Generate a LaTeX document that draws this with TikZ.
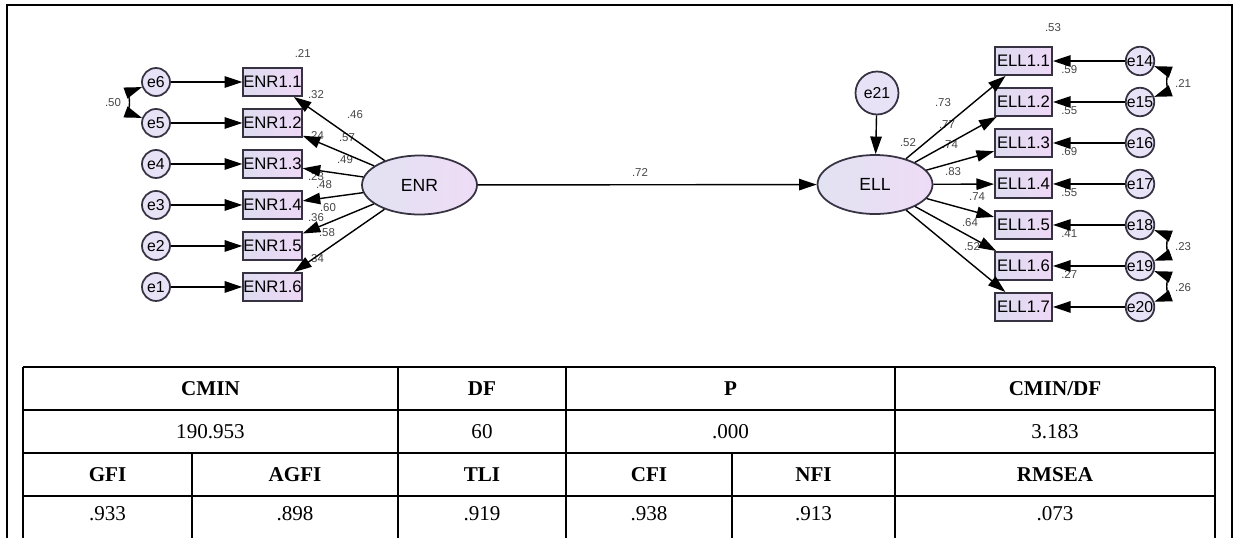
\documentclass[tikz,border=0pt]{standalone}
\usepackage{fontspec}
\setmainfont{Liberation Serif}
\setsansfont{Liberation Sans}
\usetikzlibrary{arrows.meta, shapes, positioning}

\definecolor{amosline}{RGB}{55,50,65}
\definecolor{latleft}{RGB}{226,226,242}
\definecolor{latright}{RGB}{238,220,246}
\definecolor{boxleft}{RGB}{222,220,240}
\definecolor{boxright}{RGB}{238,216,246}
\definecolor{errfill}{RGB}{232,226,246}
\definecolor{coefgray}{RGB}{70,70,70}

\begin{document}
\begin{tikzpicture}[x=0.02cm, y=-0.02cm, on grid, node distance=0.82cm,
	>={Triangle[length=10pt,width=6.5pt]},
	latent/.style={ellipse, draw=amosline, line width=1pt, left color=latleft, right color=latright, minimum width=2.3cm, minimum height=1.18cm, inner sep=0pt, font=\sffamily\fontsize{10}{12}\selectfont},
	item/.style={rectangle, draw=amosline, line width=1.1pt, left color=boxleft, right color=boxright, minimum width=1.16cm, minimum height=0.56cm, inner sep=0pt, font=\sffamily\fontsize{9.5}{11}\selectfont},
	err/.style={circle, draw=amosline, line width=1pt, fill=errfill, minimum size=0.56cm, inner sep=0pt, font=\sffamily\fontsize{9}{10}\selectfont},
	coef/.style={inner sep=0pt, text=coefgray, font=\sffamily\fontsize{6.5}{7}\selectfont},
	hd/.style={font=\bfseries\fontsize{12}{14}\selectfont},
	val/.style={font=\fontsize{12}{14}\selectfont},
	rule/.style={line width=1.4pt}]
		\useasboundingbox (0,0) rectangle (1237,538);
		\draw[rule] (7,538) -- (7,5) -- (1232,5) -- (1232,538);
		
		% ENR block
		\node[latent] (ENR) at (419.5,185) {ENR};
		\node[item] (enr1) at (272.5,82) {ENR1.1};
		\node[item, below = of enr1] (enr2) {ENR1.2};
		\node[item, below = of enr2] (enr3) {ENR1.3};
		\node[item, below = of enr3] (enr4) {ENR1.4};
		\node[item, below = of enr4] (enr5) {ENR1.5};
		\node[item, below = of enr5] (enr6) {ENR1.6};
		
		\node[err] (e6) at (156,82) {e6};
		\node[err, below = of e6] (e5) {e5};
		\node[err, below = of e5] (e4) {e4};
		\node[err, below = of e4] (e3) {e3};
		\node[err, below = of e3] (e2) {e2};
		\node[err, below = of e2] (e1) {e1};
		
		% ELL block
		\node[latent] (ELL) at (875,184.5) {ELL};
		\node[err, minimum size=0.86cm] (e21) at (877,93) {e21};
		\node[item, minimum width=1.14cm] (ell1) at (1023.5,61) {ELL1.1};
		\node[item, minimum width=1.14cm, below = of ell1] (ell2) {ELL1.2};
		\node[item, minimum width=1.14cm, below = of ell2] (ell3) {ELL1.3};
		\node[item, minimum width=1.14cm, below = of ell3] (ell4) {ELL1.4};
		\node[item, minimum width=1.14cm, below = of ell4] (ell5) {ELL1.5};
		\node[item, minimum width=1.14cm, below = of ell5] (ell6) {ELL1.6};
		\node[item, minimum width=1.14cm, below = of ell6] (ell7) {ELL1.7};
		
		\node[err] (e14) at (1140,61) {e14};
		\node[err, below = of e14] (e15) {e15};
		\node[err, below = of e15] (e16) {e16};
		\node[err, below = of e16] (e17) {e17};
		\node[err, below = of e17] (e18) {e18};
		\node[err, below = of e18] (e19) {e19};
		\node[err, below = of e19] (e20) {e20};
		
		% estimates
		\node[coef, above = 0.19cm of enr1.north east] (r1) {.21};
		\node[coef, above right = 0.19cm and 0.1cm of enr2.north east] (r2) {.32};
		\node[coef, above right = 0.19cm and 0.1cm of enr3.north east] (r3) {.24};
		\node[coef, above right = 0.19cm and 0.1cm of enr4.north east] (r4) {.23};
		\node[coef, above right = 0.19cm and 0.1cm of enr5.north east] (r5) {.36};
		\node[coef, above right = 0.19cm and 0.1cm of enr6.north east] (r6) {.34};
		\node[coef] (l1) at (355,115) {.46};
		\node[coef] (l2) at (347,138) {.57};
		\node[coef] (l3) at (345,160) {.49};
		\node[coef] (l4) at (324,185) {.48};
		\node[coef] (l5) at (328,208) {.60};
		\node[coef] (l6) at (327,233) {.58};
		\node[coef] (c56) at (113,103) {.50};
		
		\node[coef] (b72) at (640,173) {.72};
		\node[coef] (rELL) at (908,143) {.52};
		\node[coef] (k1) at (943,103) {.73};
		\node[coef] (k2) at (947,125) {.77};
		\node[coef] (k3) at (950,145) {.74};
		\node[coef] (k4) at (953,172) {.83};
		\node[coef] (k5) at (977,197) {.74};
		\node[coef] (k6) at (970,223) {.64};
		\node[coef] (k7) at (972,247) {.52};
		\node[coef, above = 0.28cm of ell1.north east] (s1) {.53};
		\node[coef, above right = 0.26cm and 0.16cm of ell2.north east] (s2) {.59};
		\node[coef, above right = 0.26cm and 0.16cm of ell3.north east] (s3) {.55};
		\node[coef, above right = 0.26cm and 0.16cm of ell4.north east] (s4) {.69};
		\node[coef, above right = 0.26cm and 0.16cm of ell5.north east] (s5) {.55};
		\node[coef, above right = 0.26cm and 0.16cm of ell6.north east] (s6) {.41};
		\node[coef, above right = 0.26cm and 0.16cm of ell7.north east] (s7) {.27};
		\node[coef] (c1415) at (1183,84) {.21};
		\node[coef] (c1819) at (1183,247) {.23};
		\node[coef] (c1920) at (1183,288) {.26};
		
		\path[->, line width=0.8pt]
		(e6) edge (enr1)
		(e5) edge (enr2)
		(e4) edge (enr3)
		(e3) edge (enr4)
		(e2) edge (enr5)
		(e1) edge (enr6)
		(ENR) edge (enr1)
		(ENR) edge (enr2)
		(ENR) edge (enr3)
		(ENR) edge (enr4)
		(ENR) edge (enr5)
		(ENR) edge (enr6)
		(ENR) edge (ELL)
		(e21) edge (ELL)
		(ELL) edge (ell1)
		(ELL) edge (ell2)
		(ELL) edge (ell3)
		(ELL) edge (ell4)
		(ELL) edge (ell5)
		(ELL) edge (ell6)
		(ELL) edge (ell7)
		(e14) edge (ell1)
		(e15) edge (ell2)
		(e16) edge (ell3)
		(e17) edge (ell4)
		(e18) edge (ell5)
		(e19) edge (ell6)
		(e20) edge (ell7);
		\path[<->, line width=0.8pt]
		(e6) edge[bend right = 70] (e5)
		(e14) edge[bend left = 70] (e15)
		(e18) edge[bend left = 70] (e19)
		(e19) edge[bend left = 70] (e20);
		
		% fit table
		\draw[rule] (23,367) -- (1215,367) (23,410) -- (1215,410)
		(23,453) -- (1215,453) (23,496) -- (1215,496)
		(23,367) -- (23,538) (398,367) -- (398,538) (566,367) -- (566,538)
		(895,367) -- (895,538) (1215,367) -- (1215,538)
		(192,453) -- (192,538) (732,453) -- (732,538);
		\node[hd] (hCMIN) at (210.5,389) {CMIN};
		\node[hd] (hDF) at (482,389) {DF};
		\node[hd] (hP) at (730.5,389) {P};
		\node[hd] (hCMINDF) at (1055,389) {CMIN/DF};
		\node[val] (vCMIN) at (210.5,432) {190.953};
		\node[val] (vDF) at (482,432) {60};
		\node[val] (vP) at (730.5,432) {.000};
		\node[val] (vCMINDF) at (1055,432) {3.183};
		\node[hd] (hGFI) at (107.5,475) {GFI};
		\node[hd] (hAGFI) at (295,475) {AGFI};
		\node[hd] (hTLI) at (482,475) {TLI};
		\node[hd] (hCFI) at (649,475) {CFI};
		\node[hd] (hNFI) at (813.5,475) {NFI};
		\node[hd] (hRMSEA) at (1055,475) {RMSEA};
		\node[val] (vGFI) at (107.5,514) {.933};
		\node[val] (vAGFI) at (295,514) {.898};
		\node[val] (vTLI) at (482,514) {.919};
		\node[val] (vCFI) at (649,514) {.938};
		\node[val] (vNFI) at (813.5,514) {.913};
		\node[val] (vRMSEA) at (1055,514) {.073};
\end{tikzpicture}
\end{document}
